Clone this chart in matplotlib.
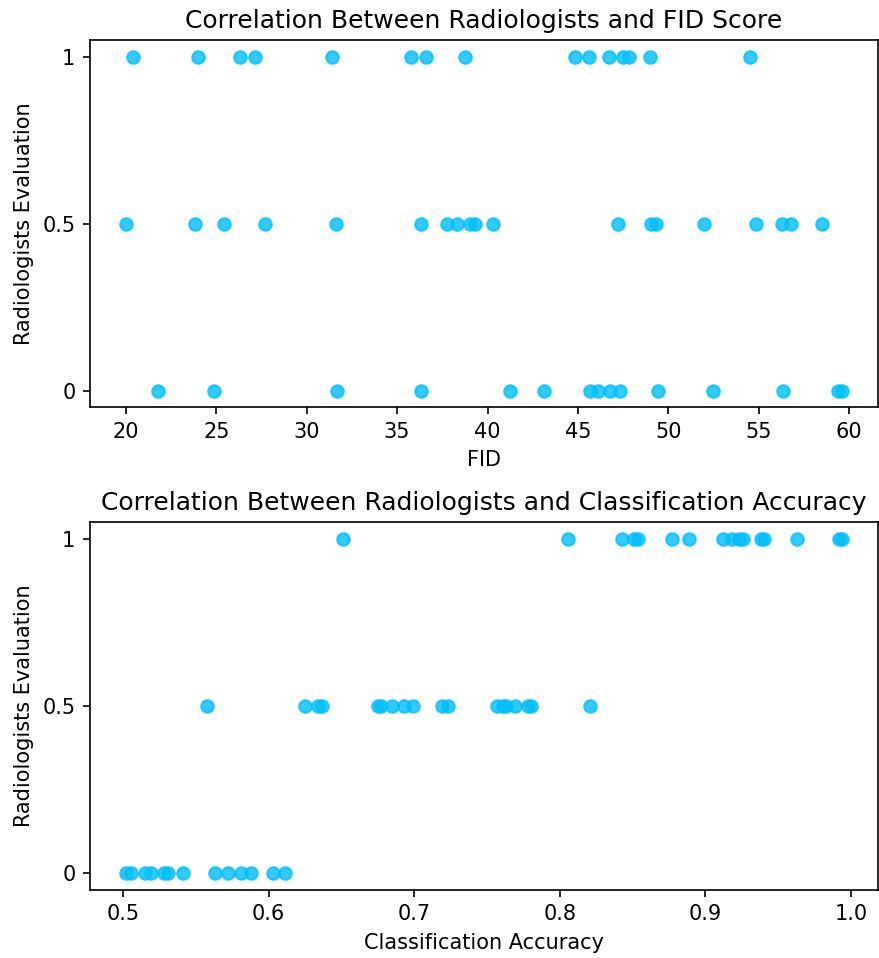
import matplotlib
matplotlib.use("Agg")
import matplotlib.pyplot as plt

fid_1 = [20.40, 23.98, 26.31, 27.12, 31.39, 35.74, 36.57, 38.73, 44.82, 45.59, 46.69, 47.5, 47.8, 48.97, 54.51]
fid_05 = [20.0, 23.85, 25.41, 27.72, 31.63, 36.31, 37.74, 38.29, 39.02, 39.30, 40.31, 47.23, 49.04, 49.33,
          51.96, 54.85, 56.27, 56.76, 58.47]
fid_0 = [21.78, 24.86, 31.68, 36.33, 41.24, 43.12, 45.68, 46.13, 46.77, 47.31, 49.44, 52.47, 56.32, 59.35, 59.61]

acc_1 = [0.651, 0.806, 0.843, 0.851, 0.854, 0.877, 0.889, 0.912, 0.918, 0.923, 0.926, 0.938, 0.940, 0.963, 0.992, 0.994]
acc_05 = [0.558, 0.625, 0.634, 0.637, 0.675, 0.677, 0.685, 0.693, 0.699, 0.719, 0.723, 0.757, 0.761, 0.763,
          0.769, 0.778, 0.780, 0.821]
acc_0 = [0.502, 0.5055, 0.515, 0.519, 0.528, 0.531, 0.541, 0.563, 0.572, 0.581, 0.588, 0.603, 0.611]

y_ticks = [0, 0.5, 1]
y_ticklabels = ["0", "0.5", "1"]

fid = fid_1 + fid_05 + fid_0
fid_y = [1] * len(fid_1) + [0.5] * len(fid_05) + [0] * len(fid_0)
acc = acc_1 + acc_05 + acc_0
acc_y = [1] * len(acc_1) + [0.5] * len(acc_05) + [0] * len(acc_0)

fig, (ax1, ax2) = plt.subplots(2, 1, figsize=(879 / 150, 958 / 150), dpi=150)
fig.subplots_adjust(left=0.1024, right=0.9989, top=0.9582, bottom=0.0713, hspace=0.313)

color = "#00BFFF"
ax1.scatter(fid, fid_y, color=color, alpha=0.8)
ax1.set_title("Correlation Between Radiologists and FID Score", fontsize=12)
ax1.set_xlabel("FID")
ax1.set_ylabel("Radiologists Evaluation")
ax1.set_yticks(y_ticks)
ax1.set_yticklabels(y_ticklabels)

ax2.scatter(acc, acc_y, color=color, alpha=0.8)
ax2.set_title("Correlation Between Radiologists and Classification Accuracy", fontsize=12)
ax2.set_xlabel("Classification Accuracy")
ax2.set_ylabel("Radiologists Evaluation")
ax2.set_yticks(y_ticks)
ax2.set_yticklabels(y_ticklabels)

fig.savefig("out.png", dpi=150)
